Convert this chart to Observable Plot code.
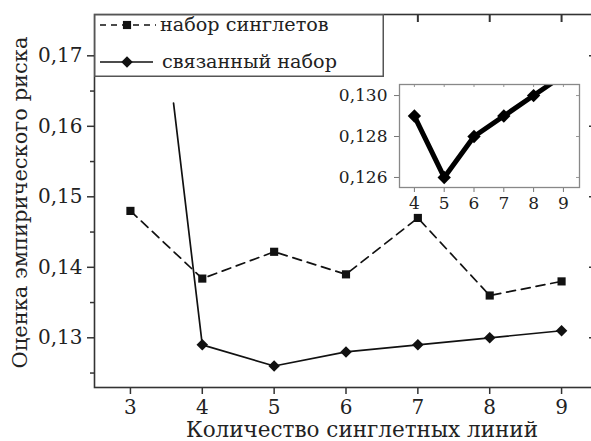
<!DOCTYPE html>
<html><head><meta charset="utf-8">
<script src="https://cdn.jsdelivr.net/npm/d3@7"></script>
<script src="https://cdn.jsdelivr.net/npm/@observablehq/plot@0.6"></script>
<style>
html,body{margin:0;padding:0;background:#fff;}
#wrap{position:relative;width:591px;height:441px;overflow:hidden;font-family:"DejaVu Serif",serif;background:#fff;}
#wrap > svg, #wrap > div {position:absolute;}
</style></head>
<body><div id="wrap"></div>
<script>
// ---- data ----
const xValues = [3, 4, 5, 6, 7, 8, 9];
const singletValues = [0.148, 0.1384, 0.1422, 0.139, 0.147, 0.136, 0.138];
const linkedX = [3.6, 4, 5, 6, 7, 8, 9];
const linkedValues = [0.1633, 0.129, 0.126, 0.128, 0.129, 0.130, 0.131];
const linkedHasMarker = [false, true, true, true, true, true, true];
const insetX = [4, 5, 6, 7, 8, 9];
const insetValues = [0.129, 0.126, 0.128, 0.129, 0.130, 0.131];
const yTicks = [0.13, 0.14, 0.15, 0.16, 0.17];
const yMinorTicks = [0.125, 0.135, 0.145, 0.155, 0.165];
const insetYTicks = [0.126, 0.128, 0.130];
const seriesNames = ["набор синглетов", "связанный набор"];
const xTitle = "Количество синглетных линий";
const yTitle = "Оценка эмпирического риска";

const singlets = xValues.map((x, i) => ({x, y: singletValues[i]}));
const linked = linkedX.map((x, i) => ({x, y: linkedValues[i], m: linkedHasMarker[i]}));
const insetData = insetX.map((x, i) => ({x, y: insetValues[i]}));
const fmt2 = d => d.toFixed(2).replace(".", ",");
const fmt3 = d => d.toFixed(3).replace(".", ",");
const blank = () => "";
const FONT = "DejaVu Serif";

const wrap = document.getElementById("wrap");

// main frame: 94..597 (503 px) x 14..387 (373 px)
const main = Plot.plot({
  width: 591, height: 441,
  marginLeft: 94, marginRight: -6, marginTop: 14, marginBottom: 54,
  style: {fontFamily: FONT, fontSize: "20px", color: "#222", background: "transparent"},
  x: {domain: [2.5, 9.5]},
  y: {domain: [0.12295, 0.17586]},
  marks: [
    Plot.axisX(xValues, {anchor: "bottom", tickSize: 7, tickPadding: 5, label: null, tickFormat: d => String(d), stroke: "#333", strokeWidth: 1.5}),
    Plot.ruleX(xValues, {x: d => d, insetBottom: 365, stroke: "#333", strokeWidth: 2}),
    Plot.axisY(yTicks, {anchor: "left", tickSize: 7, tickPadding: 5, tickFormat: fmt2, label: null, stroke: "#333", strokeWidth: 1.5}),
    Plot.axisY(yMinorTicks, {anchor: "left", tickSize: 4, tickFormat: blank, label: null, stroke: "#333", strokeWidth: 1.5}),
    Plot.ruleY(yTicks, {y: d => d, insetLeft: 495, stroke: "#333", strokeWidth: 1.5}),
    Plot.frame({stroke: "#333", strokeWidth: 1.6}),
    Plot.line(singlets, {x: "x", y: "y", stroke: "#111", strokeWidth: 1.7, strokeDasharray: "9,6"}),
    Plot.dot(singlets, {x: "x", y: "y", symbol: "square", r: 4.6, fill: "#111", stroke: "none"}),
    Plot.line(linked, {x: "x", y: "y", stroke: "#111", strokeWidth: 1.7}),
    Plot.dot(linked.filter(d => d.m), {x: "x", y: "y", symbol: "diamond2", r: 5.2, fill: "#111", stroke: "none"}),
    Plot.text([xTitle], {frameAnchor: "bottom", lineAnchor: "middle", textAnchor: "middle", dy: 42.5, dx: 16, fontSize: 21.5, fill: "#222"}),
    Plot.text([yTitle], {frameAnchor: "left", lineAnchor: "middle", textAnchor: "middle", rotate: -90, dx: -74, dy: 1.5, fontSize: 21, fill: "#222"})
  ]
});
main.style.left = "0px"; main.style.top = "0px";
wrap.appendChild(main);

// inset frame: 180 x 103 px
const inset = Plot.plot({
  width: 255, height: 140,
  marginLeft: 69, marginTop: 9, marginRight: 6, marginBottom: 28,
  style: {fontFamily: FONT, fontSize: "17px", color: "#222", background: "transparent"},
  x: {domain: [3.5, 9.54]},
  y: {domain: [0.12551, 0.13054]},
  marks: [
    Plot.frame({fill: "white"}),
    Plot.axisX(insetX, {anchor: "bottom", tickSize: 5, tickPadding: 4, label: null, tickFormat: d => String(d), stroke: "#777"}),
    Plot.ruleX(insetX, {x: d => d, insetBottom: 100, stroke: "#999"}),
    Plot.axisY(insetYTicks, {anchor: "left", tickSize: 5, tickPadding: 7, tickFormat: fmt3, label: null, stroke: "#777"}),
    Plot.ruleY(insetYTicks, {y: d => d, insetLeft: 177, stroke: "#999"}),
    Plot.line(insetData, {x: "x", y: "y", stroke: "#000", strokeWidth: 5, clip: true}),
    Plot.dot(insetData, {x: "x", y: "y", symbol: "diamond2", r: 6, fill: "#000", stroke: "none", clip: true}),
    Plot.frame({stroke: "#888", strokeWidth: 1.3})
  ]
});
inset.style.left = "330px"; inset.style.top = "75px";
wrap.appendChild(inset);

// legend
const leg = d3.create("svg").attr("width", 290).attr("height", 63)
  .style("left", "94px").style("top", "14px").style("position", "absolute");
leg.append("rect").attr("x", 0.75).attr("y", 0.75).attr("width", 288.5).attr("height", 61.5)
  .attr("fill", "white").attr("stroke", "#555").attr("stroke-width", 1.5);
const rows = [
  {y: 11, dash: "6,5", sym: d3.symbolSquare, size: Math.PI * 4.6 * 4.6, x2: 62, tx: 66},
  {y: 48, dash: null, sym: d3.symbolDiamond2, size: Math.PI * 5.2 * 5.2, x2: 59, tx: 68}
];
rows.forEach((r, i) => {
  const g = leg.append("g");
  g.append("line").attr("x1", 6).attr("x2", r.x2).attr("y1", r.y).attr("y2", r.y)
    .attr("stroke", "#111").attr("stroke-width", 1.7).attr("stroke-dasharray", r.dash);
  g.append("path").attr("transform", `translate(33,${r.y})`).attr("d", d3.symbol(r.sym, r.size)()).attr("fill", "#111");
  g.append("text").attr("x", r.tx).attr("y", r.y).attr("dy", "0.32em")
    .attr("font-family", FONT).attr("font-size", 19.2).attr("fill", "#222").text(seriesNames[i]);
});
wrap.appendChild(leg.node());
</script>
</body></html>
